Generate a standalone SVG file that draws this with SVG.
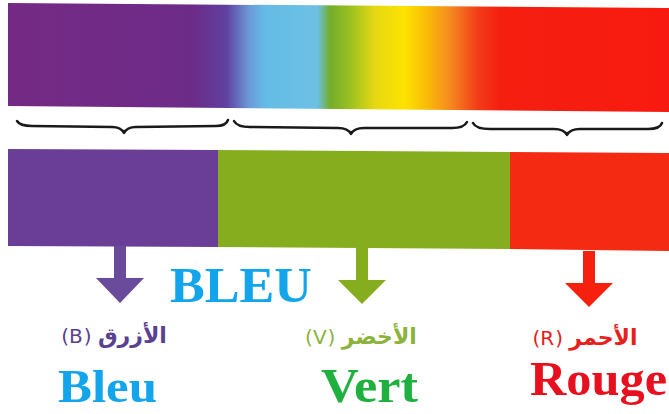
<svg xmlns="http://www.w3.org/2000/svg" width="669" height="414" viewBox="0 0 669 414">
  <defs>
    <linearGradient id="spec" x1="0" y1="0" x2="1" y2="0">
      <stop offset="0" stop-color="#742a84"/>
      <stop offset="0.28" stop-color="#6d2b88"/>
      <stop offset="0.33" stop-color="#5f40a0"/>
      <stop offset="0.365" stop-color="#6c9ad8"/>
      <stop offset="0.39" stop-color="#64bde6"/>
      <stop offset="0.468" stop-color="#6cc0e4"/>
      <stop offset="0.487" stop-color="#73ad2c"/>
      <stop offset="0.517" stop-color="#9ac020"/>
      <stop offset="0.555" stop-color="#e6d812"/>
      <stop offset="0.600" stop-color="#fde300"/>
      <stop offset="0.631" stop-color="#f9bf06"/>
      <stop offset="0.669" stop-color="#f58a20"/>
      <stop offset="0.711" stop-color="#f23c18"/>
      <stop offset="0.744" stop-color="#f51f10"/>
      <stop offset="1" stop-color="#f81a10"/>
    </linearGradient>
  </defs>
  <style>
    .brace { fill: none; stroke: #1a1a1a; stroke-width: 2.5; stroke-linecap: round; stroke-linejoin: round; }
    .big { font-family: "Liberation Serif", "Times New Roman", serif; font-weight: bold; }
    .ar { font-family: "DejaVu Sans", "Noto Sans", sans-serif; font-size: 20px; letter-spacing: 1px; }
    .aw { font-size: 22px; font-weight: bold; letter-spacing: 0; }
  </style>
  <rect width="669" height="414" fill="#ffffff"/>

  <g id="spectrum">
    <polygon points="8,3 669,8 669,112 8,106" fill="url(#spec)"/>
  </g>

  <g id="braces">
    <path class="brace" d="M17,121 Q20,126 32,126 L112,127 Q121,127 124,133 Q127,127 136,127 L216,126 Q226,126 228,120"/>
    <path class="brace" d="M234,121 Q237,127 250,127 L338,128 Q348,128 351,134 Q354,128 364,128 L452,128 Q464,128 467,122"/>
    <path class="brace" d="M473,123 Q476,129 490,129 L554,129 Q564,129 567,135 Q570,129 580,129 L648,129 Q660,129 662,123"/>
  </g>

  <g id="node-bleu">
    <polygon points="8,149 218,150 218,247 8,246" fill="#6a3e96"/>
    <text class="ar" x="114" y="343" text-anchor="middle" direction="rtl" fill="#5a4190"><tspan class="aw">الأزرق</tspan> (B)</text>
    <text class="big" x="58" y="402" font-size="47" textLength="99" lengthAdjust="spacingAndGlyphs" fill="#12a5ec">Bleu</text>
  </g>

  <g id="node-vert">
    <polygon points="218,150 510,152 510,249 218,247" fill="#86ad1e"/>
    <text class="ar" x="361" y="344" text-anchor="middle" direction="rtl" fill="#8cb33a"><tspan class="aw">الأخضر</tspan> (V)</text>
    <text class="big" x="321" y="402" font-size="48" textLength="97" lengthAdjust="spacingAndGlyphs" fill="#20b040">Vert</text>
  </g>

  <g id="node-rouge">
    <polygon points="510,152 669,153 669,251 510,249" fill="#f52a12"/>
    <text class="ar" x="585" y="345" text-anchor="middle" direction="rtl" fill="#e8201c"><tspan class="aw">الأحمر</tspan> (R)</text>
    <text class="big" x="530" y="395" font-size="48" textLength="137" lengthAdjust="spacingAndGlyphs" fill="#e8101e">Rouge</text>
  </g>

  <g id="label-BLEU">
    <text class="big" x="170" y="302" font-size="50" textLength="142" lengthAdjust="spacingAndGlyphs" fill="#12a5ec">BLEU</text>
  </g>

  <g id="connectors">
    <polygon points="114,246 126,246 126,278 144,278 120,303 96,278 114,278" fill="#6a4a9a"/>
    <polygon points="356,248 368,248 368,280 386,280 362,304 338,280 356,280" fill="#86ad1e"/>
    <polygon points="583,251 595,251 595,283 613,283 589,307 565,283 583,283" fill="#f5200e"/>
  </g>
</svg>
